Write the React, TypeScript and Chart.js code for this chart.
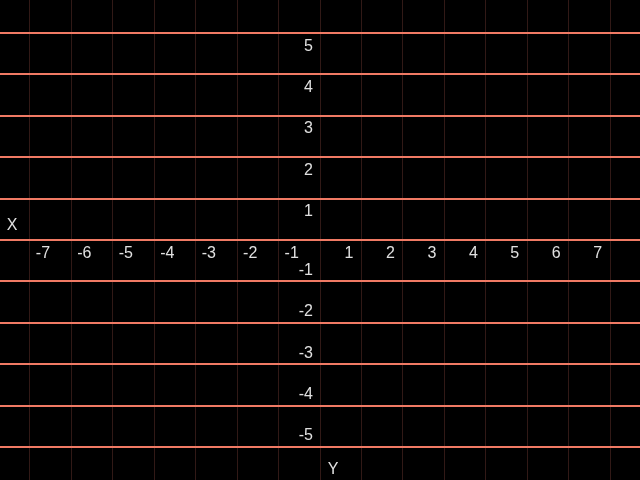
import React, { useEffect, useRef } from "react";
import { Chart, registerables } from "chart.js";

Chart.register(...registerables);

const xTicks: number[] = [-7, -6, -5, -4, -3, -2, -1, 0, 1, 2, 3, 4, 5, 6, 7];
const yTicks: number[] = [-5, -4, -3, -2, -1, 0, 1, 2, 3, 4, 5];
const xTickLabels: string[] = xTicks.map((v) => String(v));
const yTickLabels: string[] = yTicks.map((v) => String(v));
const xRange: number[] = [-7.72, 7.72];
const yRange: number[] = [-5.8, 5.8];
const xAxisTitle = "X";
const yAxisTitle = "Y";

const labelPlugin = {
  id: "mathAxisLabels",
  afterDraw(chart: any) {
    const ctx = chart.ctx as CanvasRenderingContext2D;
    const xs = chart.scales.x;
    const ys = chart.scales.y;
    const x0 = xs.getPixelForValue(0);
    const y0 = ys.getPixelForValue(0);
    ctx.save();
    ctx.fillStyle = "#e0e0e0";
    ctx.font = "16px 'Liberation Sans', sans-serif";
    ctx.textBaseline = "top";
    xTicks.forEach((v, i) => {
      if (v === 0) return;
      const px = xs.getPixelForValue(v);
      if (v < 0) {
        ctx.textAlign = "left";
        ctx.fillText(xTickLabels[i], px + 6, y0 + 6);
      } else {
        ctx.textAlign = "right";
        ctx.fillText(xTickLabels[i], px - 8, y0 + 6);
      }
    });
    ctx.textAlign = "right";
    yTicks.forEach((v, i) => {
      if (v === 0) return;
      const py = ys.getPixelForValue(v);
      if (v > 0) {
        ctx.textBaseline = "top";
        ctx.fillText(yTickLabels[i], x0 - 7, py + 5);
      } else {
        ctx.textBaseline = "bottom";
        ctx.fillText(yTickLabels[i], x0 - 7, py - 3);
      }
    });
    ctx.textAlign = "center";
    ctx.textBaseline = "bottom";
    ctx.fillText(xAxisTitle, xs.left + 12, y0 - 6);
    ctx.textBaseline = "top";
    ctx.fillText(yAxisTitle, x0 + 13, ys.bottom - 18);
    ctx.restore();
  },
};

const bgPlugin = {
  id: "blackBg",
  beforeDraw(chart: any) {
    const ctx = chart.ctx as CanvasRenderingContext2D;
    ctx.save();
    ctx.fillStyle = "#000000";
    ctx.fillRect(0, 0, chart.width, chart.height);
    ctx.restore();
  },
};

export default function App() {
  const ref = useRef<HTMLCanvasElement | null>(null);
  useEffect(() => {
    document.body.style.margin = "0";
    document.body.style.background = "#000";
    if (!ref.current) return;
    const chart = new Chart(ref.current, {
      type: "scatter",
      data: { datasets: [{ data: [], showLine: false }] },
      options: {
        animation: false,
        responsive: false,
        maintainAspectRatio: false,
        layout: { padding: 0 },
        plugins: { legend: { display: false }, tooltip: { enabled: false } },
        scales: {
          x: {
            type: "linear",
            min: xRange[0],
            max: xRange[1],
            afterBuildTicks: (scale: any) => {
              scale.ticks = xTicks.map((v) => ({ value: v }));
            },
            ticks: { display: false },
            border: { display: false },
            grid: { color: "rgba(90,45,40,0.55)", lineWidth: 1, drawTicks: false },
          },
          y: {
            type: "linear",
            min: yRange[0],
            max: yRange[1],
            afterBuildTicks: (scale: any) => {
              scale.ticks = yTicks.map((v) => ({ value: v }));
            },
            ticks: { display: false },
            border: { display: false },
            grid: { color: "#f07a64", lineWidth: 2, drawTicks: false },
          },
        },
      },
      plugins: [bgPlugin, labelPlugin],
    } as any);
    return () => chart.destroy();
  }, []);
  return (
    <div style={{ position: "fixed", left: 0, top: 0, width: 640, height: 480, background: "#000" }}>
      <canvas ref={ref} width={640} height={480} style={{ width: 640, height: 480, display: "block" }} />
    </div>
  );
}
